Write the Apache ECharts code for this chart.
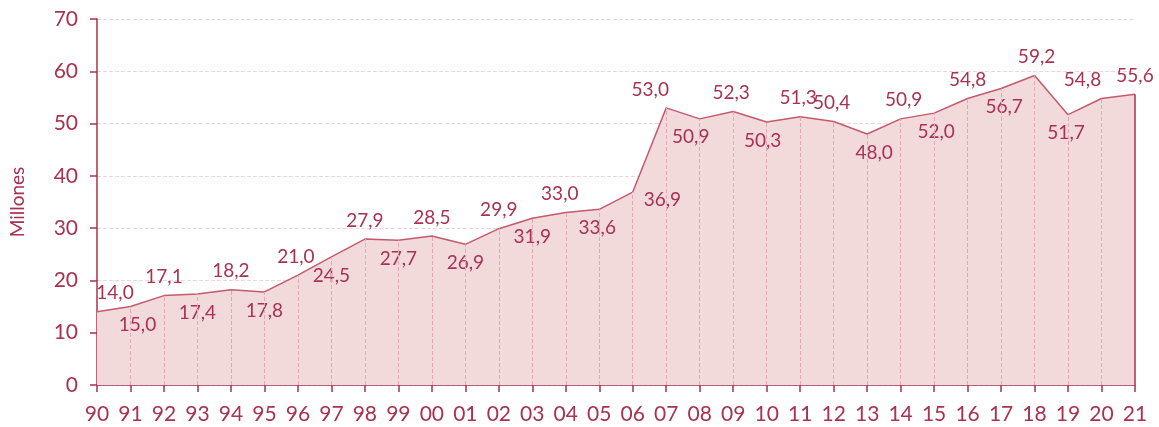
<!DOCTYPE html>
<html>
<head>
<meta charset="utf-8">
<script src="https://cdn.jsdelivr.net/npm/echarts@6/dist/echarts.min.js"></script>
<style>
html, body { margin: 0; padding: 0; background: #fff; }
#chart { width: 1159px; height: 427px; }
</style>
</head>
<body>
<div id="chart"></div>
<script>
// años (eje x)
let years = ['90','91','92','93','94','95','96','97','98','99','00','01','02','03','04','05',
             '06','07','08','09','10','11','12','13','14','15','16','17','18','19','20','21'];
// valores en millones
let values = [14.0,15.0,17.1,17.4,18.2,17.8,21.0,24.5,27.9,27.7,28.5,26.9,29.9,31.9,33.0,33.6,
              36.9,53.0,50.9,52.3,50.3,51.3,50.4,48.0,50.9,52.0,54.8,56.7,59.2,51.7,54.8,55.6];
// donde va cada etiqueta
let labelSide = ['top','bottom','top','bottom','top','bottom','top','bottom','top','bottom','top','bottom','top','bottom','top','bottom',
                 'right','top','bottom','top','bottom','top','top','bottom','top','bottom','top','bottom','top','bottom','top','top'];
let labelShift = [18,7,0,0,0,0,-2,0,0,0,0,0,0,0,-6,-2,
                  0,-16,-9,-2,-4,-2,-2,7,3,2,0,3,2,-2,-19,0];

let red = '#a8324f';
let font = 'Lato, "Open Sans", sans-serif';

let seriesData = values.map(function (v, i) {
  let lab = { position: labelSide[i], offset: [labelShift[i], 0] };
  if (labelSide[i] === 'right') lab.offset = [2, 8];
  return { value: v, label: lab };
});

// lineas verticales desde cada punto hasta el eje
let dropLines = values.map(function (v, i) {
  let last = i === values.length - 1;
  return [
    { coord: [years[i], 0], lineStyle: last ? { color: red, type: 'solid', width: 1.5 } : undefined },
    { coord: [years[i], v] }
  ];
}).slice(1);

let myChart = echarts.init(document.getElementById('chart'));
let option = {
  animation: false,
  grid: { left: 97, right: 24, top: 19, bottom: 42 },
  xAxis: {
    type: 'category',
    data: years,
    boundaryGap: false,
    axisLine: { lineStyle: { color: red, width: 1.5 } },
    axisTick: { show: true, alignWithLabel: true, length: 7, lineStyle: { color: red, width: 1.5 } },
    axisLabel: { color: red, fontSize: 21, fontFamily: font, margin: 19, interval: 0 },
    splitLine: { show: false }
  },
  yAxis: {
    type: 'value',
    min: 0,
    max: 70,
    interval: 10,
    name: 'Millones',
    nameLocation: 'middle',
    nameGap: 70,
    nameTextStyle: { color: red, fontSize: 19, fontFamily: font },
    axisLine: { show: true, lineStyle: { color: red, width: 1.5 } },
    axisTick: { show: true, length: 7, lineStyle: { color: red, width: 1.5 } },
    axisLabel: { color: red, fontSize: 21, fontFamily: font, margin: 19 },
    splitLine: { show: true, lineStyle: { color: '#f0d4d9', type: 'dashed', width: 1 } }
  },
  series: [
    {
      type: 'line',
      data: seriesData,
      symbol: 'circle',
      symbolSize: 0,
      lineStyle: { color: '#c45a6e', width: 1.5 },
      itemStyle: { color: '#c45a6e' },
      areaStyle: { color: '#f2d9da', opacity: 1 },
      label: {
        show: true,
        color: red,
        fontSize: 19,
        fontFamily: font,
        distance: 9,
        formatter: function (p) { return p.value.toFixed(1).replace('.', ','); }
      },
      markLine: {
        silent: true,
        symbol: 'none',
        label: { show: false },
        lineStyle: { color: '#e2aab5', type: 'dashed', width: 1 },
        data: dropLines
      }
    }
  ]
};
myChart.setOption(option);
</script>
</body>
</html>
